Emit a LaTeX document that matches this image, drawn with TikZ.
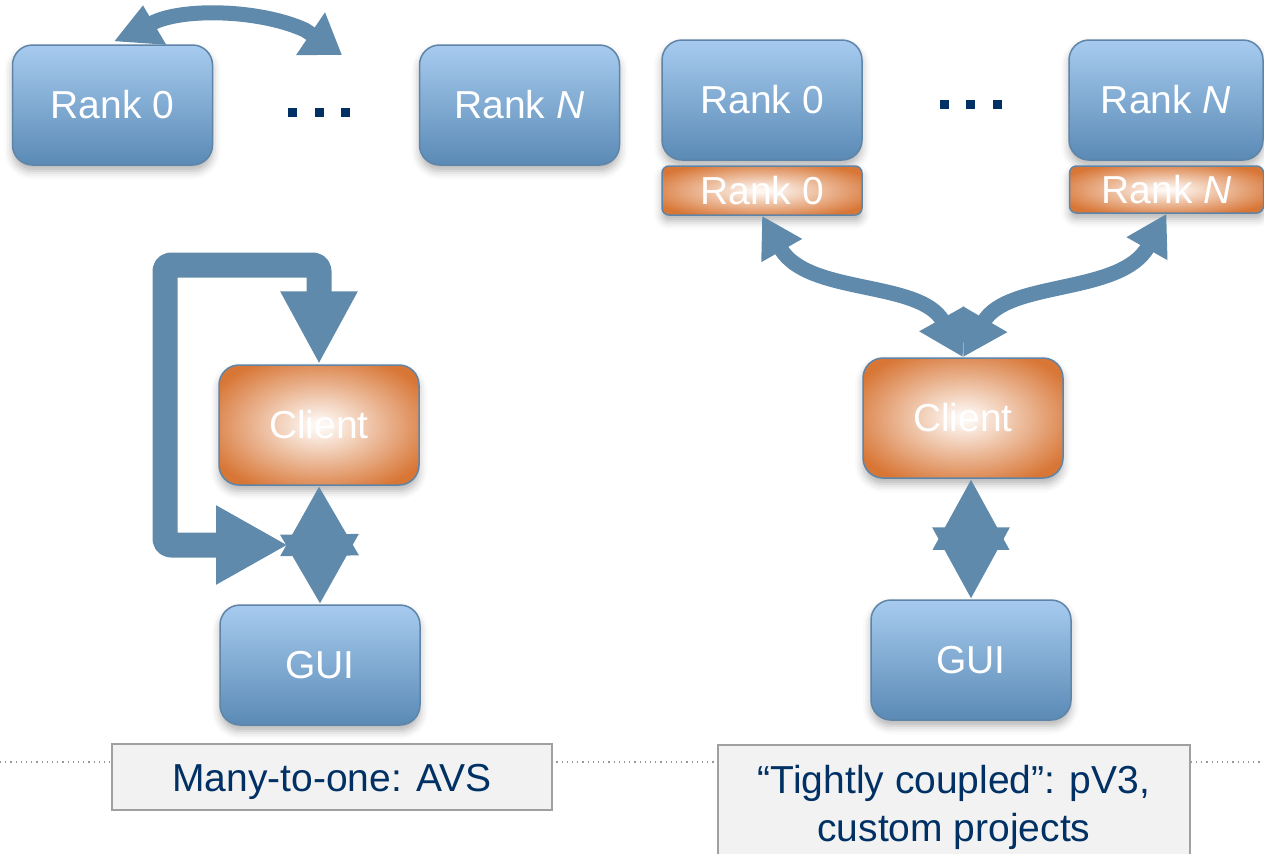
\documentclass[tikz,border=0pt]{standalone}
\usepackage{fontspec}
\setmainfont{Liberation Sans}
\usetikzlibrary{arrows.meta,shadows.blur,calc}

\definecolor{boxtop}{RGB}{167,203,239}
\definecolor{boxbot}{RGB}{90,138,181}
\definecolor{boxedge}{RGB}{94,133,168}
\definecolor{glowin}{RGB}{253,246,241}
\definecolor{glowout}{RGB}{216,118,54}
\definecolor{flow}{RGB}{96,138,171}
\definecolor{navy}{RGB}{0,48,100}
\definecolor{capfill}{RGB}{242,242,242}
\definecolor{capedge}{RGB}{160,160,160}
\definecolor{rule}{RGB}{150,150,150}

% white centre fading to orange towards the edges
\pgfdeclareradialshading{clientglow}{\pgfpoint{0bp}{0bp}}{%
  color(0bp)=(glowin); color(2bp)=(glowin);
  color(30bp)=(glowout); color(50bp)=(glowout)}

\tikzset{
  softshadow/.style={blur shadow={shadow xshift=0pt, shadow yshift=-3pt,
      shadow blur radius=4pt, shadow opacity=30}},
  labelfont/.style={font=\fontsize{19.5}{24}\selectfont},
  rankbox/.style={draw=boxedge, line width=0.75pt, rounded corners=10pt,
      top color=boxtop, bottom color=boxbot, minimum width=100pt,
      minimum height=60pt, inner sep=0pt, text=white, labelfont, softshadow},
  glowbox/.style={draw=boxedge, line width=0.75pt, rounded corners=10pt,
      shading=clientglow, minimum width=100pt, minimum height=60pt,
      inner sep=0pt, text=white, labelfont, softshadow},
  stripbox/.style={glowbox, rounded corners=3.5pt, minimum height=24.5pt},
  capbox/.style={draw=capedge, fill=capfill, line width=0.75pt,
      text=navy, labelfont, inner xsep=6pt},
  dotsq/.style={fill=navy, minimum size=4.5pt, inner sep=0pt},
  flowline/.style={draw=flow, line join=round}
}

\begin{document}
\begin{tikzpicture}[x=0.5pt, y=-0.5pt]
\useasboundingbox (0,0) rectangle (1264,853);

% dotted rule behind the captions
\coordinate (ruleW) at (0,762);
\coordinate (ruleE) at (1264,762);
\draw[rule, line width=0.6pt, dotted] (ruleW) -- (ruleE);

% ---- many-to-one ----
\node[rankbox] (lr0) at (112.5,105) {Rank 0};
\node[rankbox] (lrN) at (519.5,105) {Rank \textit{N}};
\node[dotsq] (ldA) at (292.5,112) {};
\node[dotsq] (ldB) at (319,112) {};
\node[dotsq] (ldC) at (345.5,112) {};

\node[glowbox] (clientL) at (319,425) {Client};
\node[rankbox] (guiL) at (320,665) {GUI};

% hop between ranks
\coordinate (hopstart) at (143,5);
\coordinate (hopend) at (342,55);
\draw[flowline, line width=7.5pt,
      {Triangle[length=19pt,width=24.5pt]}-{Triangle[length=19pt,width=24.5pt]}]
  (hopstart) -- (141,34) .. controls (150,8) and (250,5) .. (305,30) -- (hopend);

% feedback loop into the client
\coordinate (loopend) at (288,545);
\draw[flowline, line width=12.5pt, rounded corners=3pt,
      {Triangle[length=36pt,width=37pt]}-{Triangle[length=36.5pt,width=36pt]}]
  (loopend) -- (165,545) -- (165,265) -| (clientL.north);

% client <-> GUI
\draw[flowline, line width=8pt,
      {Triangle[length=35pt,width=37pt]}-{Triangle[length=35pt,width=37pt]}]
  (clientL.south) -- (guiL.north);

\node[capbox, minimum width=220pt, minimum height=33pt,
      text height=14pt, text depth=0pt] (capL) at (332,777) {Many-to-one: AVS};

% ---- tightly coupled ----
\node[rankbox] (rr0) at (762,100) {Rank 0};
\node[rankbox, minimum width=97pt] (rrN) at (1166,100) {Rank \textit{N}};
\node[dotsq] (rdA) at (944,104) {};
\node[dotsq] (rdB) at (970.5,104) {};
\node[dotsq] (rdC) at (997,104) {};

\node[stripbox] (rk0o) at (762,190.5) {Rank 0};
\node[stripbox, minimum width=97pt, minimum height=23.5pt] (rkNo) at (1166.5,189.5) {Rank \textit{N}};

\node[glowbox] (clientR) at (963,418) {Client};
\node[rankbox] (guiR) at (971,660) {GUI};

\draw[flowline, line width=7.5pt,
      {Triangle[length=20pt,width=22pt]}-{Triangle[length=22pt,width=24pt]}]
  (rk0o.south) .. controls (807,295) and (920,280) .. (clientR.north);
\draw[flowline, line width=7.5pt,
      {Triangle[length=20pt,width=22pt]}-{Triangle[length=22pt,width=24pt]}]
  (rkNo.south) .. controls (1121,295) and (1008,280) .. (clientR.north);

\draw[flowline, line width=8pt,
      {Triangle[length=36pt,width=36.5pt]}-{Triangle[length=35.5pt,width=36pt]}]
  (guiR.north) -- (guiR.north |- clientR.south);

\node[capbox, minimum width=236pt, anchor=north, align=center,
      inner ysep=10pt] (capR) at (954,744)
  {“Tightly coupled”: pV3,\\custom projects};
\end{tikzpicture}
\end{document}
